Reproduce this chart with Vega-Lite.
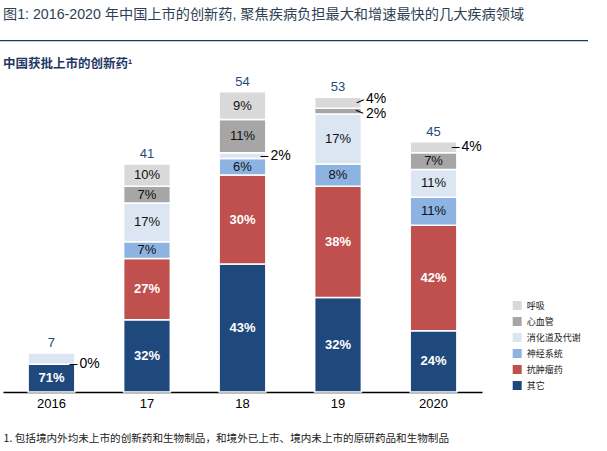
{
  "$schema": "https://vega.github.io/schema/vega-lite/v6.json",
  "width": 479,
  "height": 312,
  "autosize": "none",
  "padding": {"left": 3, "top": 80, "right": 125, "bottom": 59},
  "background": "white",
  "config": {
    "font": "Liberation Sans, Noto Sans CJK SC",
    "view": {"stroke": null},
    "legend": {"orient": "none", "legendX": 509.7, "legendY": 221, "padding": 0, "symbolType": "square", "symbolSize": 81, "symbolStrokeWidth": 0, "labelFontSize": 9, "labelOffset": 5, "rowPadding": 6, "labelColor": "#1a1a1a", "labelFont": "Noto Sans CJK SC"}
  },
  "title": {
    "text": "图1: 2016-2020 年中国上市的创新药, 聚焦疾病负担最大和增速最快的几大疾病领域",
    "subtitle": "中国获批上市的创新药¹",
    "anchor": "start",
    "frame": "group",
    "fontSize": 14.2,
    "fontWeight": "normal",
    "color": "#2f3f55",
    "subtitleFontSize": 12.5,
    "subtitleFontWeight": "bold",
    "subtitleColor": "#1f3864",
    "subtitlePadding": 35,
    "offset": -30
  },
  "resolve": {"scale": {"x": "independent"}},
  "layer": [
    {
      "data": {"values": [{"r": 1}]},
      "mark": {"type": "rule", "color": "#1f3864", "strokeWidth": 1.3},
      "encoding": {
        "x": {"datum": -0.00626, "type": "quantitative", "scale": {"domain": [0, 1], "nice": false}, "axis": null},
        "x2": {"datum": 1.2213},
        "y": {"datum": 63.17, "type": "quantitative", "scale": {"domain": [0, 56.1], "nice": false}, "axis": null}
      }
    },
    {
      "data": {"values": [
        {"year": "2016", "cat": "其它", "count": 5, "pct": "71%", "seq": 1},
        {"year": "2016", "cat": "抗肿瘤药", "count": 0, "pct": "0%", "seq": 2},
        {"year": "2016", "cat": "消化道及代谢", "count": 2, "pct": "29%", "seq": 4},
        {"year": "17", "cat": "其它", "count": 13, "pct": "32%", "seq": 1},
        {"year": "17", "cat": "抗肿瘤药", "count": 11, "pct": "27%", "seq": 2},
        {"year": "17", "cat": "神经系统", "count": 3, "pct": "7%", "seq": 3},
        {"year": "17", "cat": "消化道及代谢", "count": 7, "pct": "17%", "seq": 4},
        {"year": "17", "cat": "心血管", "count": 3, "pct": "7%", "seq": 5},
        {"year": "17", "cat": "呼吸", "count": 4, "pct": "10%", "seq": 6},
        {"year": "18", "cat": "其它", "count": 23, "pct": "43%", "seq": 1},
        {"year": "18", "cat": "抗肿瘤药", "count": 16, "pct": "30%", "seq": 2},
        {"year": "18", "cat": "神经系统", "count": 3, "pct": "6%", "seq": 3},
        {"year": "18", "cat": "消化道及代谢", "count": 1, "pct": "2%", "seq": 4},
        {"year": "18", "cat": "心血管", "count": 6, "pct": "11%", "seq": 5},
        {"year": "18", "cat": "呼吸", "count": 5, "pct": "9%", "seq": 6},
        {"year": "19", "cat": "其它", "count": 17, "pct": "32%", "seq": 1},
        {"year": "19", "cat": "抗肿瘤药", "count": 20, "pct": "38%", "seq": 2},
        {"year": "19", "cat": "神经系统", "count": 4, "pct": "8%", "seq": 3},
        {"year": "19", "cat": "消化道及代谢", "count": 9, "pct": "17%", "seq": 4},
        {"year": "19", "cat": "心血管", "count": 1, "pct": "2%", "seq": 5},
        {"year": "19", "cat": "呼吸", "count": 2, "pct": "4%", "seq": 6},
        {"year": "2020", "cat": "其它", "count": 11, "pct": "24%", "seq": 1},
        {"year": "2020", "cat": "抗肿瘤药", "count": 19, "pct": "42%", "seq": 2},
        {"year": "2020", "cat": "神经系统", "count": 5, "pct": "11%", "seq": 3},
        {"year": "2020", "cat": "消化道及代谢", "count": 5, "pct": "11%", "seq": 4},
        {"year": "2020", "cat": "心血管", "count": 3, "pct": "7%", "seq": 5},
        {"year": "2020", "cat": "呼吸", "count": 2, "pct": "4%", "seq": 6}
      ]},
      "layer": [
        {
          "mark": {"type": "bar", "stroke": "white", "strokeWidth": 1.5},
          "encoding": {
            "x": {"field": "year", "type": "nominal", "sort": ["2016", "17", "18", "19", "2020"],
                  "scale": {"paddingInner": 0.511, "paddingOuter": 0.263},
                  "axis": {"title": "1. 包括境内外均未上市的创新药和生物制品，和境外已上市、境内未上市的原研药品和生物制品",
                           "titleFontSize": 10.6, "titleFontWeight": "normal", "titleColor": "#1a1a1a", "titleFont": "Noto Sans CJK SC",
                           "titleAnchor": "start", "titleAlign": "left", "titleX": 0, "titleY": 46, "titleBaseline": "middle",
                           "labelAngle": 0, "labelFontSize": 13, "labelColor": "#000000", "labelPadding": 5,
                           "ticks": false, "domainColor": "#000000", "domainWidth": 1.5, "grid": false}},
            "y": {"field": "count", "type": "quantitative", "stack": "zero", "scale": {"domain": [0, 56.1], "nice": false}, "axis": null},
            "color": {"field": "cat", "type": "nominal",
                      "scale": {"domain": ["呼吸", "心血管", "消化道及代谢", "神经系统", "抗肿瘤药", "其它"],
                                "range": ["#d9d9d9", "#a6a6a6", "#dce6f2", "#8db3e2", "#c0504d", "#1f497d"]},
                      "legend": {"title": null}},
            "order": {"field": "seq", "type": "quantitative", "sort": "ascending"}
          }
        },
        {
          "transform": [{"aggregate": [{"op": "sum", "field": "count", "as": "total"}], "groupby": ["year"]}],
          "mark": {"type": "text", "fontSize": 13, "color": "#1f497d", "baseline": "middle", "dy": -10},
          "encoding": {
            "x": {"field": "year", "type": "nominal", "sort": ["2016", "17", "18", "19", "2020"]},
            "y": {"field": "total", "type": "quantitative", "axis": null},
            "text": {"field": "total", "type": "quantitative"}
          }
        },
        {
          "transform": [
            {"stack": "count", "groupby": ["year"], "sort": [{"field": "seq", "order": "ascending"}], "as": ["y0", "y1"]},
            {"fold": ["y0", "y1"], "as": ["k", "v"]},
            {"aggregate": [{"op": "mean", "field": "v", "as": "mid"}], "groupby": ["year", "cat", "pct", "count"]}
          ],
          "encoding": {
            "x": {"field": "year", "type": "nominal", "sort": ["2016", "17", "18", "19", "2020"]},
            "y": {"field": "mid", "type": "quantitative", "axis": null}
          },
          "layer": [
            {
              "transform": [{"filter": "datum.count >= 3 && (datum.cat === '其它' || datum.cat === '抗肿瘤药')"}],
              "mark": {"type": "text", "fontSize": 13, "fontWeight": "bold", "color": "white", "baseline": "middle"},
              "encoding": {"text": {"field": "pct"}}
            },
            {
              "transform": [{"filter": "datum.count >= 3 && datum.cat !== '其它' && datum.cat !== '抗肿瘤药'"}],
              "mark": {"type": "text", "fontSize": 13, "color": "#111111", "baseline": "middle"},
              "encoding": {"text": {"field": "pct"}}
            },
            {
              "transform": [{"filter": "(datum.year === '2016' && datum.cat === '抗肿瘤药') || (datum.year === '18' && datum.cat === '消化道及代谢') || (datum.year === '2020' && datum.cat === '呼吸')"}],
              "mark": {"type": "text", "fontSize": 14, "color": "#000000", "baseline": "middle", "align": "left", "dx": 28},
              "encoding": {"text": {"field": "pct"}}
            },
            {
              "transform": [{"filter": "(datum.year === '2016' && datum.cat === '抗肿瘤药') || (datum.year === '18' && datum.cat === '消化道及代谢') || (datum.year === '2020' && datum.cat === '呼吸')"}],
              "mark": {"type": "text", "fontSize": 14, "color": "#000000", "baseline": "middle", "align": "center", "dx": 22, "text": "–"}
            },
            {
              "transform": [{"filter": "datum.year === '19' && datum.cat === '呼吸'"}],
              "mark": {"type": "text", "fontSize": 14, "color": "#000000", "baseline": "middle", "align": "left", "dx": 28, "dy": -4},
              "encoding": {"text": {"field": "pct"}}
            },
            {
              "transform": [{"filter": "datum.year === '19' && datum.cat === '呼吸'"}],
              "mark": {"type": "text", "fontSize": 14, "color": "#000000", "baseline": "middle", "align": "center", "angle": -22, "dx": 21.15, "dy": 6.39, "text": "–"}
            },
            {
              "transform": [{"filter": "datum.year === '19' && datum.cat === '心血管'"}],
              "mark": {"type": "text", "fontSize": 14, "color": "#000000", "baseline": "middle", "align": "left", "dx": 28, "dy": 3},
              "encoding": {"text": {"field": "pct"}}
            },
            {
              "transform": [{"filter": "datum.year === '19' && datum.cat === '心血管'"}],
              "mark": {"type": "text", "fontSize": 14, "color": "#000000", "baseline": "middle", "align": "center", "angle": 23, "dx": 20, "dy": -8.3, "text": "–"}
            }
          ]
        }
      ]
    }
  ]
}
